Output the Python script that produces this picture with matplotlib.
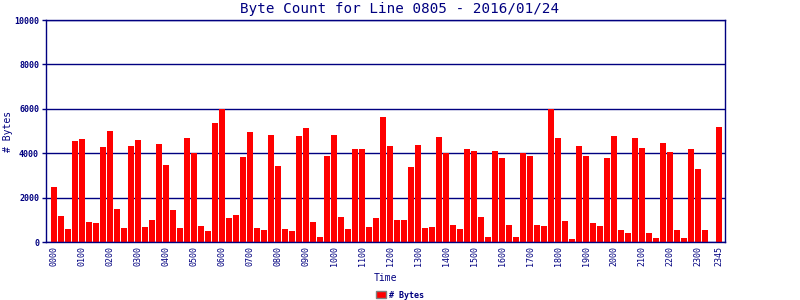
import matplotlib
matplotlib.use("Agg")
import matplotlib.pyplot as plt
from matplotlib.patches import Patch

NAVY = "#000080"

# one bar per 15 minutes, 0000 .. 2345
times = ["%02d%02d" % (h, m) for h in range(24) for m in (0, 15, 30, 45)]
byte_counts = [
    2490, 1180, 600, 4550, 4640, 910, 870, 4290,
    5000, 1500, 640, 4330, 4600, 690, 1000, 4420,
    3480, 1450, 640, 4690, 4010, 730, 510, 5360,
    6000, 1090, 1230, 3840, 4960, 640, 550, 4820,
    3430, 600, 510, 4780, 5140, 910, 240, 3880,
    4820, 1140, 600, 4200, 4200, 690, 1090, 5630,
    4330, 1000, 1000, 3390, 4380, 640, 690, 4730,
    4010, 780, 600, 4200, 4100, 1140, 240, 4100,
    3790, 780, 240, 4000, 3880, 780, 730, 6000,
    4690, 960, 150, 4330, 3880, 870, 730, 3790,
    4780, 550, 420, 4690, 4240, 420, 200, 4460,
    4060, 550, 200, 4200, 3300, 550, 0, 5180,
]
tick_labels = [t for t in times if t.endswith("00")] + ["2345"]

plt.rcParams["font.family"] = ["DejaVu Sans Mono"]

fig = plt.figure(figsize=(8, 3), dpi=100)
ax = fig.add_axes([46 / 800, 58 / 300, 679 / 800, 222 / 300])

x = list(range(len(times)))
ax.bar(x, byte_counts, width=0.86, color="#ff0000", zorder=2)

ax.set_xlim(-1.15, 95.85)
ax.set_ylim(0, 10000)
ax.set_yticks(range(0, 10001, 2000))
ax.set_yticklabels([str(v) for v in range(0, 10001, 2000)],
                   fontsize=6, fontweight="bold", color=NAVY)
ax.set_xticks([times.index(t) for t in tick_labels])
ax.set_xticklabels(tick_labels, rotation=90, fontsize=6, color=NAVY)
ax.tick_params(axis="x", length=0, pad=3)
ax.tick_params(axis="y", length=3, width=1, color=NAVY, pad=2)

ax.grid(axis="y", color=NAVY, linewidth=1)
ax.set_axisbelow(True)
for s in ax.spines.values():
    s.set_color(NAVY)
    s.set_linewidth(1)

fig.text(0.5, 1 - 9 / 300, "Byte Count for Line 0805 - 2016/01/24",
         ha="center", va="center", fontsize=10.3, color=NAVY)
fig.text(385 / 800, 1 - 278 / 300, "Time", ha="center", va="center",
         fontsize=7, color=NAVY)
fig.text(8 / 800, 1 - 131 / 300, "# Bytes", ha="center", va="center",
         rotation=90, fontsize=7, color=NAVY)

handle = Patch(facecolor="#ff0000", edgecolor="gray", label="# Bytes")
leg = fig.legend(handles=[handle], loc="center", bbox_to_anchor=(0.5, 1 - 295 / 300),
                 frameon=False, prop={"size": 6, "weight": "bold"},
                 handlelength=1.2, handleheight=0.9, handletextpad=0.4)
for t in leg.get_texts():
    t.set_color(NAVY)

fig.savefig("out.png", dpi=100)
